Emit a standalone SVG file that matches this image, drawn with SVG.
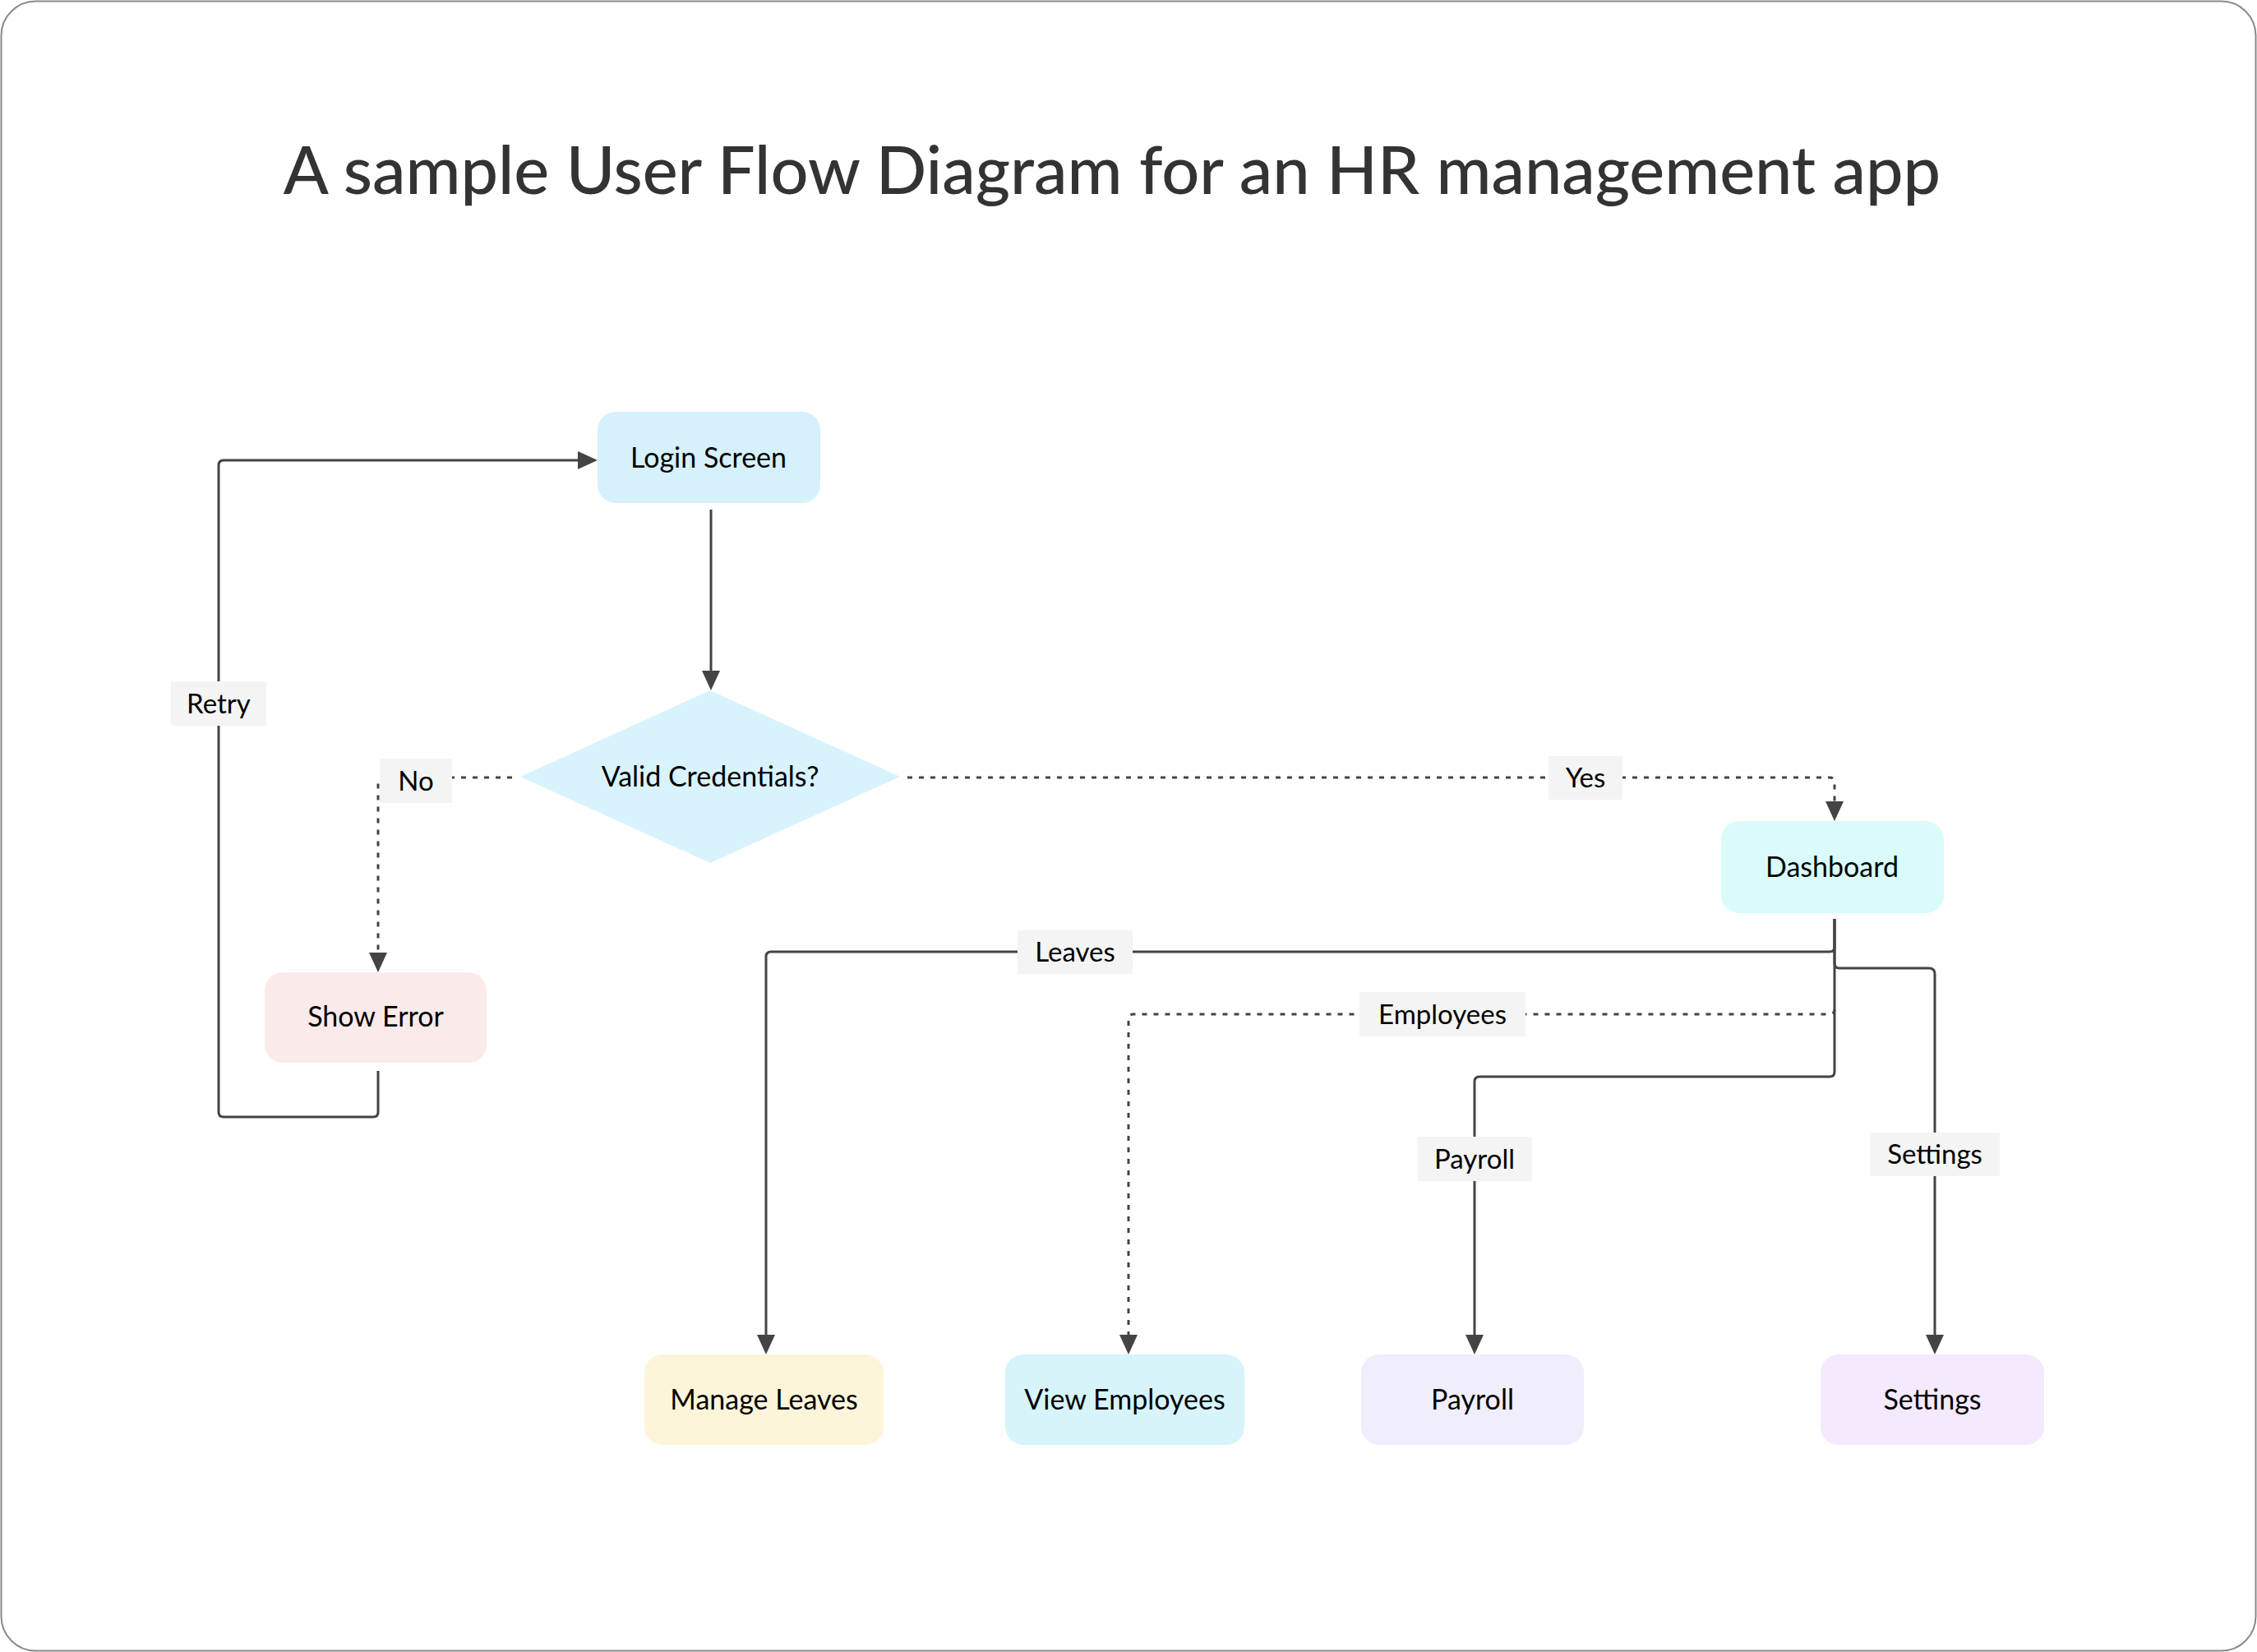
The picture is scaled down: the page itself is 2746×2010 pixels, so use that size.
<svg xmlns="http://www.w3.org/2000/svg" width="2746" height="2010" viewBox="0 0 2746 2010">
  <defs>
    <marker id="arrow" viewBox="0 0 24 22" refX="0" refY="11" markerWidth="24" markerHeight="22" markerUnits="userSpaceOnUse" orient="auto">
      <path d="M0,0 L24,11 L0,22 z" fill="#444444"/>
    </marker>
    <style>
      .edge { fill: none; stroke: #444444; stroke-width: 3; }
      .dash { stroke-dasharray: 6 8; }
      .node-text { font-family: Lato, "Noto Sans", sans-serif; font-size: 34px; fill: #000000; text-anchor: middle; }
      .lbl-box { fill: #f4f4f4; }
      .lbl-text { font-family: Lato, "Noto Sans", sans-serif; font-size: 33px; fill: #000000; text-anchor: middle; }
      .title { font-family: Lato, "Noto Sans", sans-serif; font-size: 81px; font-weight: 500; fill: #333333; text-anchor: middle; }
    </style>
  </defs>

  <rect x="1.5" y="1.5" width="2743" height="2007" rx="42" ry="42" fill="#ffffff" stroke="#8a8a8a" stroke-width="2"/>

  <text class="title" x="1353" y="236">A sample User Flow Diagram for an HR management app</text>

  <g id="connectors">
    <!-- Login -> Valid Credentials -->
    <path class="edge" d="M865,620 L865,816" marker-end="url(#arrow)"/>
    <!-- No -->
    <path class="edge dash" d="M623,946 L466,946 Q460,946 460,952 L460,1159" marker-end="url(#arrow)"/>
    <!-- Yes -->
    <path class="edge dash" d="M1104,946 L2226,946 Q2232,946 2232,952 L2232,975" marker-end="url(#arrow)"/>
    <!-- Retry -->
    <path class="edge" d="M460,1303 L460,1353 Q460,1359 454,1359 L272,1359 Q266,1359 266,1353 L266,566 Q266,560 272,560 L703,560" marker-end="url(#arrow)"/>
    <!-- Leaves -->
    <path class="edge" d="M2232,1118 L2232,1152 Q2232,1158 2226,1158 L938,1158 Q932,1158 932,1164 L932,1624" marker-end="url(#arrow)"/>
    <!-- Employees -->
    <path class="edge dash" d="M2232,1228 Q2232,1234 2226,1234 L1379,1234 Q1373,1234 1373,1240 L1373,1624" marker-end="url(#arrow)"/>
    <!-- Payroll -->
    <path class="edge" d="M2232,1118 L2232,1304 Q2232,1310 2226,1310 L1800,1310 Q1794,1310 1794,1316 L1794,1624" marker-end="url(#arrow)"/>
    <!-- Settings -->
    <path class="edge" d="M2232,1118 L2232,1172 Q2232,1178 2238,1178 L2347,1178 Q2354,1178 2354,1185 L2354,1624" marker-end="url(#arrow)"/>
  </g>

  <g id="edge-labels">
    <g id="label-no">
      <rect class="lbl-box" x="462" y="923" width="88" height="54"/>
      <text class="lbl-text" x="506" y="962">No</text>
    </g>
    <g id="label-yes">
      <rect class="lbl-box" x="1884" y="920" width="90" height="53"/>
      <text class="lbl-text" x="1929" y="958">Yes</text>
    </g>
    <g id="label-retry">
      <rect class="lbl-box" x="208" y="829" width="116" height="54"/>
      <text class="lbl-text" x="266" y="868">Retry</text>
    </g>
    <g id="label-leaves">
      <rect class="lbl-box" x="1238" y="1132" width="140" height="53"/>
      <text class="lbl-text" x="1308" y="1170">Leaves</text>
    </g>
    <g id="label-employees">
      <rect class="lbl-box" x="1654" y="1207" width="202" height="54"/>
      <text class="lbl-text" x="1755" y="1246">Employees</text>
    </g>
    <g id="label-payroll">
      <rect class="lbl-box" x="1725" y="1383" width="139" height="54"/>
      <text class="lbl-text" x="1794" y="1422">Payroll</text>
    </g>
    <g id="label-settings">
      <rect class="lbl-box" x="2275" y="1378" width="158" height="53"/>
      <text class="lbl-text" x="2354" y="1416">Settings</text>
    </g>
  </g>

  <g id="node-login">
    <rect x="727" y="501" width="271" height="111" rx="22" ry="22" fill="#d6f0fc"/>
    <text class="node-text" x="862" y="569">Login Screen</text>
  </g>
  <g id="node-valid">
    <polygon points="864,840 1095,945 864,1050 633,945" fill="#d9f3fd"/>
    <text class="node-text" x="864" y="957">Valid Credentials?</text>
  </g>
  <g id="node-error">
    <rect x="322" y="1183" width="270" height="110" rx="22" ry="22" fill="#fbeaea"/>
    <text class="node-text" x="457" y="1249">Show Error</text>
  </g>
  <g id="node-dashboard">
    <rect x="2094" y="999" width="271" height="112" rx="22" ry="22" fill="#d9fcfb"/>
    <text class="node-text" x="2229" y="1067">Dashboard</text>
  </g>
  <g id="node-leaves">
    <rect x="784" y="1648" width="291" height="110" rx="22" ry="22" fill="#fdf5da"/>
    <text class="node-text" x="929.5" y="1715">Manage Leaves</text>
  </g>
  <g id="node-employees">
    <rect x="1223" y="1648" width="291" height="110" rx="22" ry="22" fill="#d6f4fa"/>
    <text class="node-text" x="1368.5" y="1715">View Employees</text>
  </g>
  <g id="node-payroll">
    <rect x="1656" y="1648" width="271" height="110" rx="22" ry="22" fill="#f0eefd"/>
    <text class="node-text" x="1791.5" y="1715">Payroll</text>
  </g>
  <g id="node-settings">
    <rect x="2215" y="1648" width="272" height="110" rx="22" ry="22" fill="#f5e9fd"/>
    <text class="node-text" x="2351" y="1715">Settings</text>
  </g>
</svg>
